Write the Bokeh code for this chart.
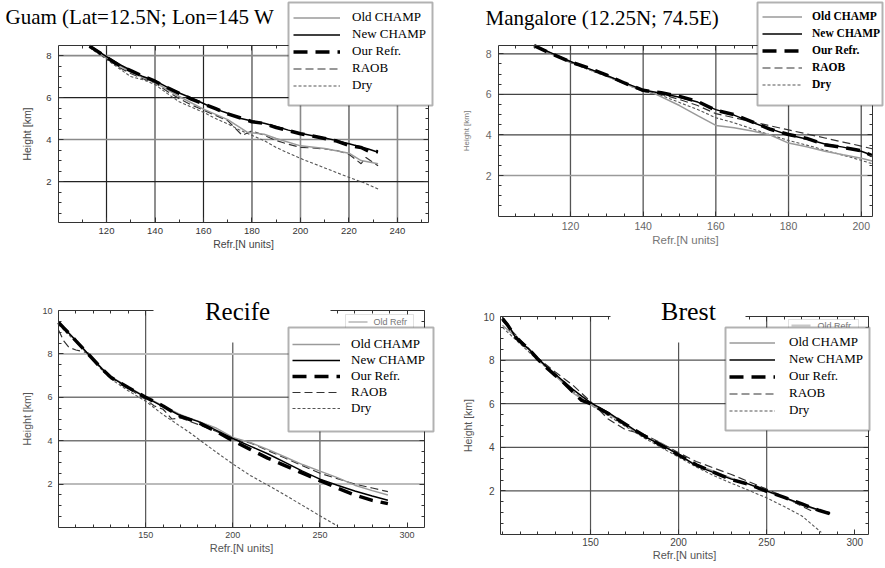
from bokeh.plotting import figure
from bokeh.models import (Range1d, FixedTicker, LinearAxis, Legend, LegendItem,
                          BoxAnnotation, Label)
from bokeh.layouts import column, row
from bokeh.embed import file_html
from bokeh.resources import INLINE

# ---------------- data (refractivity N, height km) ----------------
series_names = ["Old CHAMP", "New CHAMP", "Our Refr.", "RAOB", "Dry"]

# Guam
guam_old_n = [113, 120, 130, 140, 150, 160, 170, 178, 185, 190, 200, 210, 220, 225, 232]
guam_old_h = [8.42, 7.9, 7.2, 6.72, 6.05, 5.45, 4.95, 4.35, 4.25, 4.05, 3.7, 3.57, 3.35, 3.0, 2.85]
guam_new_n = [113, 120, 125, 130, 135, 140, 145, 150, 155, 160, 165, 170, 175, 180, 185, 190, 195, 200, 205, 210, 215, 220, 225, 228, 232]
guam_new_h = [8.48, 7.95, 7.6, 7.3, 7.0, 6.8, 6.5, 6.22, 5.98, 5.72, 5.45, 5.25, 5.02, 4.88, 4.78, 4.62, 4.45, 4.3, 4.18, 4.07, 3.95, 3.8, 3.65, 3.55, 3.4]
guam_our_n = [113, 120, 125, 130, 135, 140, 145, 150, 155, 160, 165, 170, 175, 180, 185, 190, 195, 200, 205, 210, 215, 220, 225, 228, 232]
guam_our_h = [8.45, 7.92, 7.55, 7.28, 7.02, 6.78, 6.48, 6.2, 5.93, 5.7, 5.47, 5.22, 5.04, 4.85, 4.77, 4.57, 4.43, 4.28, 4.17, 4.05, 3.93, 3.72, 3.62, 3.45, 3.42]
guam_raob_n = [113, 120, 125, 130, 135, 140, 145, 150, 155, 160, 165, 170, 176, 180, 185, 190, 195, 200, 205, 210, 215, 220, 225, 227, 232]
guam_raob_h = [8.4, 7.88, 7.45, 7.15, 6.9, 6.7, 6.3, 5.95, 5.65, 5.4, 5.15, 4.9, 4.2, 4.42, 4.2, 3.95, 3.78, 3.63, 3.6, 3.55, 3.48, 3.3, 2.85, 3.15, 2.75]
guam_dry_n = [113, 120, 125, 130, 135, 140, 145, 150, 155, 160, 165, 170, 175, 180, 185, 190, 200, 210, 220, 226, 232]
guam_dry_h = [8.38, 7.82, 7.4, 7.0, 6.85, 6.62, 6.2, 5.8, 5.55, 5.3, 5.0, 4.75, 4.45, 4.2, 3.95, 3.62, 3.1, 2.65, 2.2, 1.95, 1.65]

# Mangalore
mang_old_n = [110, 120, 130, 140, 143, 150, 155, 160, 165, 170, 175, 180, 185, 190, 195, 200, 203]
mang_old_h = [8.4, 7.6, 6.9, 6.15, 6.05, 5.45, 4.95, 4.47, 4.35, 4.2, 4.0, 3.6, 3.42, 3.2, 3.02, 2.85, 2.72]
mang_new_n = [110, 115, 120, 125, 130, 135, 140, 145, 150, 155, 160, 165, 170, 175, 180, 185, 190, 195, 200, 203]
mang_new_h = [8.41, 8.02, 7.62, 7.27, 6.93, 6.57, 6.22, 6.06, 5.86, 5.62, 5.25, 4.98, 4.62, 4.3, 4.0, 3.8, 3.55, 3.4, 3.2, 3.0]
mang_our_n = [110, 115, 120, 125, 130, 135, 140, 145, 150, 155, 160, 165, 170, 175, 180, 185, 190, 195, 200, 203]
mang_our_h = [8.4, 7.98, 7.6, 7.3, 6.95, 6.55, 6.2, 6.08, 5.9, 5.65, 5.22, 5.0, 4.65, 4.28, 4.02, 3.83, 3.52, 3.38, 3.22, 2.98]
mang_raob_n = [110, 120, 130, 140, 145, 150, 155, 160, 165, 170, 175, 180, 185, 190, 195, 200, 203]
mang_raob_h = [8.38, 7.58, 6.92, 6.2, 6.0, 5.75, 5.45, 5.05, 4.85, 4.65, 4.45, 4.25, 4.05, 3.85, 3.65, 3.45, 3.32]
mang_dry_n = [110, 120, 130, 140, 145, 150, 155, 160, 165, 170, 175, 180, 185, 190, 195, 200, 203]
mang_dry_h = [8.38, 7.56, 6.88, 6.15, 5.95, 5.6, 5.25, 4.85, 4.6, 4.3, 4.0, 3.73, 3.5, 3.25, 3.0, 2.75, 2.58]

# Recife
rec_old_n = [100, 110, 117, 125, 130, 140, 150, 160, 170, 180, 190, 200, 210, 220, 230, 240, 250, 260, 270, 280, 289]
rec_old_h = [9.5, 8.6, 8.0, 7.33, 6.95, 6.48, 6.02, 5.6, 5.2, 4.9, 4.6, 4.15, 3.92, 3.6, 3.25, 2.9, 2.6, 2.3, 1.95, 1.7, 1.5]
rec_new_n = [100, 103, 106, 110, 117, 125, 130, 140, 150, 160, 170, 180, 190, 200, 210, 220, 230, 240, 250, 260, 270, 280, 289]
rec_new_h = [9.46, 9.2, 8.95, 8.62, 8.0, 7.31, 6.93, 6.46, 6.0, 5.57, 5.15, 4.89, 4.5, 4.1, 3.75, 3.4, 3.0, 2.6, 2.23, 1.95, 1.68, 1.45, 1.26]
rec_our_n = [100, 103, 106, 110, 117, 125, 130, 140, 150, 160, 170, 180, 190, 200, 210, 220, 230, 240, 250, 260, 270, 280, 289]
rec_our_h = [9.45, 9.2, 8.95, 8.6, 8.0, 7.3, 6.92, 6.45, 6.0, 5.6, 5.12, 4.85, 4.45, 4.0, 3.6, 3.2, 2.85, 2.5, 2.16, 1.82, 1.5, 1.25, 1.1]
rec_raob_n = [100, 103, 106, 110, 117, 125, 130, 140, 150, 155, 160, 165, 170, 180, 190, 200, 210, 220, 230, 240, 250, 260, 270, 280, 289]
rec_raob_h = [9.1, 8.6, 8.3, 8.18, 8.05, 7.3, 6.9, 6.42, 5.9, 5.6, 5.45, 5.0, 5.05, 4.75, 4.45, 4.1, 3.9, 3.55, 3.2, 2.85, 2.5, 2.25, 2.0, 1.82, 1.65]
rec_dry_n = [100, 110, 117, 125, 130, 140, 150, 160, 175, 190, 200, 210, 225, 240, 250, 260]
rec_dry_h = [9.35, 8.55, 8.0, 7.25, 6.85, 6.3, 5.82, 5.2, 4.39, 3.5, 2.93, 2.4, 1.73, 1.02, 0.54, 0.08]

# Brest
brest_old_n = [100, 110, 120, 130, 140, 150, 160, 170, 180, 190, 200, 210, 220, 230, 240, 250, 260, 270, 280, 286]
brest_old_h = [9.6, 8.9, 8.05, 7.3, 6.5, 5.95, 5.55, 5.0, 4.5, 4.2, 3.6, 3.2, 2.9, 2.58, 2.3, 1.98, 1.68, 1.35, 1.1, 0.95]
brest_new_n = [100, 103, 108, 115, 120, 125, 130, 135, 140, 145, 150, 160, 170, 180, 190, 200, 210, 220, 230, 240, 250, 260, 270, 280, 286]
brest_new_h = [9.95, 9.65, 8.96, 8.5, 8.09, 7.7, 7.35, 7.0, 6.66, 6.35, 6.05, 5.6, 5.06, 4.52, 4.11, 3.68, 3.15, 2.84, 2.54, 2.31, 2.0, 1.7, 1.39, 1.11, 0.96]
brest_our_n = [100, 103, 108, 115, 120, 125, 130, 135, 140, 145, 150, 160, 170, 180, 190, 200, 210, 220, 230, 240, 250, 260, 270, 280, 286]
brest_our_h = [9.9, 9.6, 9.0, 8.5, 8.05, 7.65, 7.3, 6.95, 6.55, 6.15, 6.0, 5.55, 5.05, 4.55, 4.1, 3.65, 3.2, 2.85, 2.52, 2.3, 1.98, 1.7, 1.4, 1.1, 0.95]
brest_raob_n = [100, 110, 120, 130, 140, 150, 160, 170, 180, 190, 200, 210, 220, 230, 240, 250, 260, 270, 275, 280, 286]
brest_raob_h = [9.8, 8.95, 8.1, 7.45, 6.85, 6.1, 5.3, 4.8, 4.6, 4.2, 3.75, 3.35, 3.05, 2.75, 2.42, 2.08, 1.72, 1.3, 1.1, 1.12, 1.0]
brest_dry_n = [100, 110, 120, 130, 140, 150, 160, 170, 180, 190, 200, 210, 220, 230, 240, 250, 260, 270, 281]
brest_dry_h = [9.5, 8.75, 8.0, 7.3, 6.55, 5.95, 5.45, 4.95, 4.45, 4.0, 3.55, 3.1, 2.7, 2.35, 2.02, 1.68, 1.28, 0.85, 0.1]

titles = ["Guam (Lat=12.5N; Lon=145 W", "Mangalore (12.25N; 74.5E)", "Recife", "Brest"]
x_label = "Refr.[N units]"
y_label = "Height [km]"

STYLES = {
    "Old CHAMP": dict(line_color="#9a9a9a", line_width=1.5),
    "New CHAMP": dict(line_color="black", line_width=1.5),
    "Our Refr.": dict(line_color="black", line_width=3.5, line_dash="14 8"),
    "RAOB": dict(line_color="#333333", line_width=1.2, line_dash="8 4"),
    "Dry": dict(line_color="#555555", line_width=1.1, line_dash="3 2"),
}


def make_panel(spec, data):
    ox, oy, W, H = spec["box"]              # figure position on the page, px
    fl, fr, ft, fb = spec["frame"]          # visible plot box, page px
    bx0, bx1 = spec["xr"]
    by0, by1 = spec["yr"]
    kx = (fr - fl) / (bx1 - bx0)
    ky = (fb - ft) / (by1 - by0)
    cx0 = bx0 - (fl - ox) / kx
    cx1 = bx1 + (ox + W - fr) / kx
    cy1 = by1 + (ft - oy) / ky
    cy0 = by0 - (oy + H - fb) / ky

    p = figure(width=W, height=H, output_backend="svg", toolbar_location=None,
               x_range=Range1d(cx0, cx1), y_range=Range1d(cy0, cy1),
               min_border_left=0, min_border_right=0, min_border_top=0, min_border_bottom=0,
               x_axis_label=x_label, y_axis_label=y_label)
    p.title.visible = False
    p.xgrid.visible = False
    p.ygrid.visible = False
    p.outline_line_color = None

    def sx(X):
        return X - ox

    def sy(Y):
        return (oy + H) - Y

    # grid lines, bounded to the plot box
    for dim, ticks, color, width in spec["grids"]:
        k = len(ticks)
        if dim == 0:
            p.segment(x0=ticks, y0=[by0] * k, x1=ticks, y1=[by1] * k,
                      line_color=color, line_width=width)
        else:
            p.segment(x0=[bx0] * k, y0=ticks, x1=[bx1] * k, y1=ticks,
                      line_color=color, line_width=width)

    # axes fixed on the plot box
    xa = p.xaxis[0]
    ya = p.yaxis[0]
    xa.fixed_location = by0
    xa.bounds = (bx0, bx1)
    ya.fixed_location = bx0
    ya.bounds = (by0, by1)
    xa.ticker = FixedTicker(ticks=spec["xt"], minor_ticks=spec["xm"])
    ya.ticker = FixedTicker(ticks=spec["yt"], minor_ticks=spec["ym"])
    ta = LinearAxis(fixed_location=by1, bounds=(bx0, bx1),
                    ticker=FixedTicker(ticks=spec["xt"], minor_ticks=spec["xm"]),
                    major_label_text_font_size="1px", major_label_text_alpha=0)
    ra = LinearAxis(fixed_location=bx1, bounds=(by0, by1),
                    ticker=FixedTicker(ticks=spec["yt"], minor_ticks=spec["ym"]),
                    major_label_text_font_size="1px", major_label_text_alpha=0)
    p.add_layout(ta, "above")
    p.add_layout(ra, "right")
    for ax in (xa, ya, ta, ra):
        ax.major_tick_in = 5
        ax.major_tick_out = 0
        ax.minor_tick_in = 3
        ax.minor_tick_out = 0
        ax.axis_line_color = "#333333"
        ax.axis_line_width = 1
        ax.major_tick_line_color = "#333333"
        ax.minor_tick_line_color = "#333333"
    for ax in (xa, ya):
        ax.major_label_text_font = "Liberation Sans"
        ax.major_label_text_color = spec["tick_color"]
        ax.major_label_text_font_size = spec["tick_fs"]
        ax.axis_label_text_font = "Liberation Sans"
        ax.axis_label_text_font_style = "normal"
        ax.axis_label_text_color = spec["label_color"]
    xa.axis_label_text_font_size = spec["xl_fs"]
    ya.axis_label_text_font_size = spec["yl_fs"]
    xa.major_label_standoff, xa.axis_label_standoff = spec["x_std"]
    ya.major_label_standoff, ya.axis_label_standoff = spec["y_std"]

    # series
    rends = {}
    for name in ["Dry", "RAOB", "Old CHAMP", "New CHAMP", "Our Refr."]:
        n, h = data[name]
        rends[name] = p.line(n, h, **STYLES[name])

    def box(L, R, T, B, **kw):
        return BoxAnnotation(left=sx(L), right=sx(R), top=sy(T), bottom=sy(B),
                             left_units="screen", right_units="screen",
                             top_units="screen", bottom_units="screen", **kw)

    if "title_bg" in spec:
        p.add_layout(box(*spec["title_bg"], fill_color="white", fill_alpha=1.0, line_color=None))
    if "mini" in spec:
        L, R, T, B, tx, ty = spec["mini"]
        p.add_layout(box(L, R, T, B, fill_color="white", fill_alpha=1.0,
                         line_color="#9a9a9a", line_width=1))
        p.add_layout(box(L + 3, L + 22, ty - 1, ty + 1, fill_color="#c8c8c8",
                         fill_alpha=1.0, line_color=None))
        p.add_layout(Label(x=sx(tx), y=sy(ty), x_units="screen", y_units="screen",
                           text="Old Refr", text_font="Liberation Sans", text_font_size="9px",
                           text_color="#777777", text_baseline="middle"))

    # legend frame and legend
    p.add_layout(box(*spec["legbox"], fill_color="white", fill_alpha=1.0,
                     line_color="black", line_width=2))
    gx, row1, rowh, gw, std, fs, fst = spec["leg"]
    top = row1 - rowh / 2.0
    bottom = top + 5 * rowh
    items = [LegendItem(label=nm, renderers=[rends[nm]]) for nm in series_names]
    leg = Legend(items=items, location=(sx(gx), sy(bottom)), padding=0, spacing=0,
                 margin=0, label_height=rowh, glyph_height=rowh, glyph_width=gw,
                 label_standoff=std, label_text_font="Liberation Serif",
                 label_text_font_size=fs, label_text_font_style=fst,
                 label_text_color="black", background_fill_alpha=0,
                 border_line_color=None)
    p.add_layout(leg)

    tx, ty, align, tfs = spec["title_pos"]
    p.add_layout(Label(x=sx(tx), y=sy(ty), x_units="screen", y_units="screen",
                       text=spec["title"], text_font="Liberation Serif", text_font_size=tfs,
                       text_align=align, text_baseline="alphabetic", text_color="black"))
    return p


specs = [
    dict(box=(0, 0, 440, 284), frame=(58, 428, 45, 222), xr=(100.2, 252.8), yr=(0.05, 8.48),
         xt=[120, 140, 160, 180, 200, 220, 240], xm=list(range(110, 251, 10)),
         yt=[2, 4, 6, 8], ym=[x / 2 for x in range(1, 17)],
         grids=[(0, [120, 160], "#222222", 1.2), (0, [140, 180, 220], "#444444", 1.2),
                (0, [200, 240], "#8a8a8a", 1.6), (1, [2, 6], "#222222", 1.2),
                (1, [4, 8], "#8a8a8a", 1.6)],
         tick_color="#333333", label_color="#444444", tick_fs="9.5px", xl_fs="10.5px", yl_fs="10.5px",
         x_std=(5, 1), y_std=(7, 10),
         legbox=(288, 432, 2, 105), leg=(293, 17, 17, 47, 12, "13px", "normal"),
         title=titles[0], title_pos=(5, 16.5, "left", "21px")),
    dict(box=(440, 0, 444, 284), frame=(498, 872, 45, 216), xr=(100.2, 203.1), yr=(-0.02, 8.41),
         xt=[120, 140, 160, 180, 200], xm=list(range(105, 203, 5)),
         yt=[2, 4, 6, 8], ym=[x / 2 for x in range(1, 17)],
         grids=[(0, [120, 140, 160, 180, 200], "#555555", 1.3), (1, [4, 6, 8], "#444444", 1.3),
                (1, [2], "#9a9a9a", 1.6)],
         tick_color="#666666", label_color="#777777", tick_fs="10.5px", xl_fs="11.5px", yl_fs="8px",
         x_std=(5, 1), y_std=(7, 12),
         legbox=(757, 882, 2, 105), leg=(762, 16, 17, 40, 10, "11.5px", "bold"),
         title=titles[1], title_pos=(485, 17, "left", "21px")),
    dict(box=(0, 284, 440, 283), frame=(58, 424, 310, 527), xr=(100, 310), yr=(0, 10),
         xt=[150, 200, 250, 300], xm=list(range(110, 310, 10)),
         yt=[2, 4, 6, 8, 10], ym=[x / 2 for x in range(1, 20)],
         grids=[(0, [150, 200, 250], "#555555", 1.2), (1, [4, 6], "#777777", 1.5),
                (1, [2, 8], "#bbbbbb", 2.0)],
         tick_color="#444444", label_color="#555555", tick_fs="9px", xl_fs="11px", yl_fs="10.5px",
         x_std=(4, 1), y_std=(6, 6),
         title_bg=(153, 330, 290, 342), mini=(345, 413, 314, 329, 373, 321.5),
         legbox=(288, 433, 327, 431), leg=(292, 344, 16, 48, 11, "13px", "normal"),
         title=titles[2], title_pos=(237, 310.5, "center", "25px")),
    dict(box=(440, 284, 444, 283), frame=(500, 868, 316, 534), xr=(98.9, 307.8), yr=(0, 10),
         xt=[150, 200, 250, 300], xm=list(range(100, 308, 10)),
         yt=[2, 4, 6, 8, 10], ym=[x / 2 for x in range(1, 20)],
         grids=[(0, [150, 200, 250], "#555555", 1.2), (1, [2, 4, 6, 8], "#555555", 1.2)],
         tick_color="#444444", label_color="#555555", tick_fs="10px", xl_fs="11px", yl_fs="10.5px",
         x_std=(3, 0), y_std=(6, 6),
         title_bg=(610, 745, 290, 342), mini=(788, 858, 319, 336, 817, 325),
         legbox=(725, 869, 327, 430), leg=(729, 342, 17, 46, 14, "13px", "normal"),
         title=titles[3], title_pos=(688, 311, "center", "26px")),
]

datasets = [
    {"Old CHAMP": (guam_old_n, guam_old_h), "New CHAMP": (guam_new_n, guam_new_h),
     "Our Refr.": (guam_our_n, guam_our_h), "RAOB": (guam_raob_n, guam_raob_h),
     "Dry": (guam_dry_n, guam_dry_h)},
    {"Old CHAMP": (mang_old_n, mang_old_h), "New CHAMP": (mang_new_n, mang_new_h),
     "Our Refr.": (mang_our_n, mang_our_h), "RAOB": (mang_raob_n, mang_raob_h),
     "Dry": (mang_dry_n, mang_dry_h)},
    {"Old CHAMP": (rec_old_n, rec_old_h), "New CHAMP": (rec_new_n, rec_new_h),
     "Our Refr.": (rec_our_n, rec_our_h), "RAOB": (rec_raob_n, rec_raob_h),
     "Dry": (rec_dry_n, rec_dry_h)},
    {"Old CHAMP": (brest_old_n, brest_old_h), "New CHAMP": (brest_new_n, brest_new_h),
     "Our Refr.": (brest_our_n, brest_our_h), "RAOB": (brest_raob_n, brest_raob_h),
     "Dry": (brest_dry_n, brest_dry_h)},
]

panels = [make_panel(s, d) for s, d in zip(specs, datasets)]
layout = column(row(panels[0], panels[1]), row(panels[2], panels[3]))

open("out.html", "w").write(file_html(layout, INLINE))
